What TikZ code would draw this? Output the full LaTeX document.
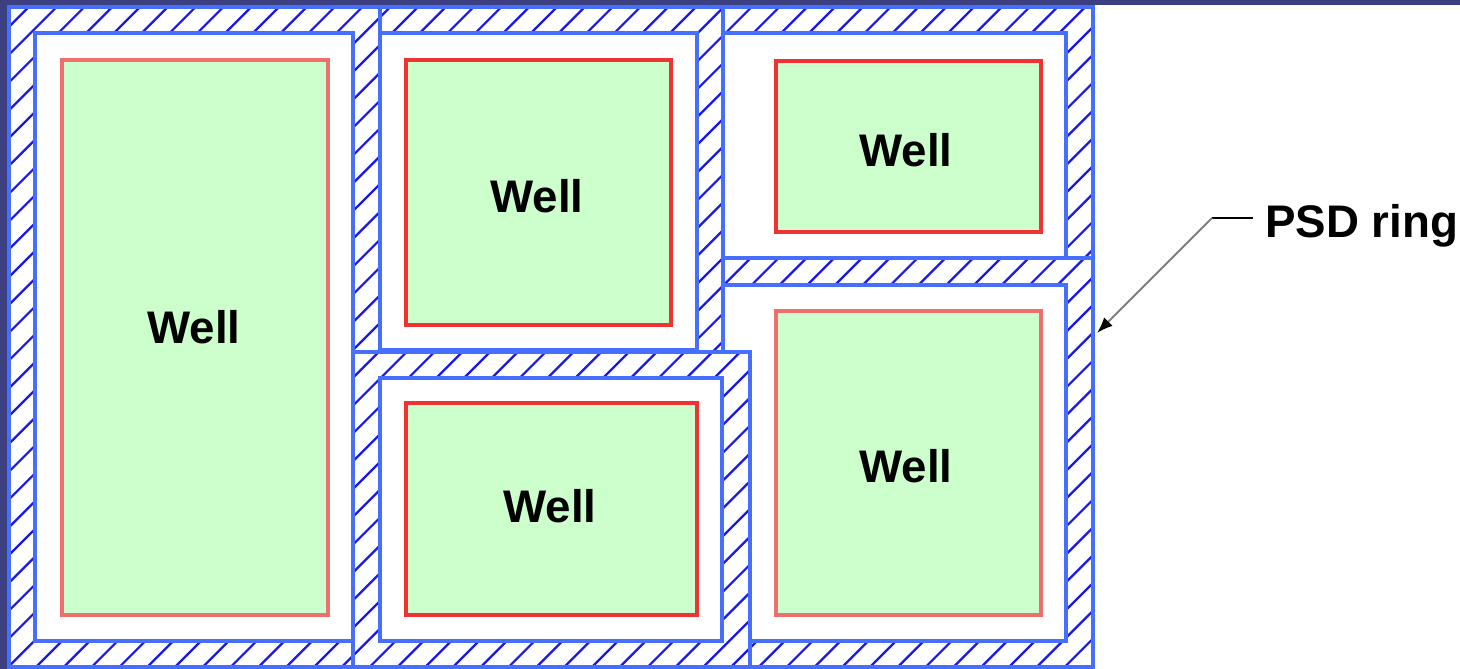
\documentclass[tikz,border=0pt]{standalone}
\usepackage{fontspec}
\setmainfont{Liberation Sans}
\usetikzlibrary{arrows.meta}

\definecolor{slidenavy}{RGB}{60,64,128}
\definecolor{ringblue}{RGB}{70,110,255}
\definecolor{hatchblue}{RGB}{25,25,235}
\definecolor{wellgreen}{RGB}{204,255,204}
\definecolor{wellred}{RGB}{240,50,50}
\definecolor{wellsalmon}{RGB}{240,110,110}

\tikzset{
	ringedge/.style={draw=ringblue, line width=0.075cm},
	hatch/.style={hatchblue, line width=0.045cm},
	wellbox/.style={fill=wellgreen, draw=wellred, line width=0.075cm},
	softwell/.style={wellbox, draw=wellsalmon},
	welltext/.style={font=\fontsize{26}{31}\selectfont\bfseries, anchor=base, inner sep=0pt},
	leader/.style={black, line width=0.05cm},
}

\begin{document}
\begin{tikzpicture}[x=0.02cm, y=-0.02cm]
		\useasboundingbox (0,0) rectangle (1460,669);
		\fill[white] (0,0) rectangle (1460,669);
		\fill[slidenavy] (0,0) rectangle (1460,5);
		\fill[slidenavy] (0,0) rectangle (8,669);

		% rings: hatched outer box, then the white cell inside
		\foreach \xa/\ya/\xb/\yb/\xc/\yc/\xd/\yd in {697/7/1093/285/723/33/1066/258,
				697/258/1093/667/723/285/1066/641,
				353/7/723/377/380/33/697/350,
				9/7/380/667/35/33/353/641,
				353/352/750/667/380/378/722/641} {
			\fill[white] (\xa,\ya) rectangle (\xb,\yb);
			\begin{scope}
				\clip (\xa,\ya) rectangle (\xb,\yb);
				\foreach \k in {0,...,64}
					\draw[hatch] ({8+27.8*\k},0) -- ++(-700,700);
			\end{scope}
			\draw[ringedge] (\xa,\ya) rectangle (\xb,\yb);
			\filldraw[ringedge, fill=white] (\xc,\yc) rectangle (\xd,\yd);
		}

		\draw[softwell] (62,60) rectangle (328,615);
		\draw[wellbox] (406,60) rectangle (671,325);
		\draw[wellbox] (776,61) rectangle (1041,232);
		\draw[wellbox] (406,403) rectangle (697,615);
		\draw[softwell] (776,311) rectangle (1041,615);

		\node[welltext] (wella) at (194,343) {Well};
		\node[welltext] (wellb) at (537,212) {Well};
		\node[welltext] (wellc) at (906,166) {Well};
		\node[welltext] (welld) at (550,522) {Well};
		\node[welltext] (welle) at (906,482) {Well};

		\node[welltext, anchor=base west] (psd) at (1265,237) {PSD ring};
		\coordinate (knee) at (1212,218);
		\coordinate (tip) at (1097,333);
		\draw[leader, shorten >=0.24cm] (knee) -- (knee -| psd.west);
		\draw[gray, line width=0.04cm, -{Latex[black, length=0.32cm, width=0.24cm]}] (knee) -- (tip);
\end{tikzpicture}
\end{document}
